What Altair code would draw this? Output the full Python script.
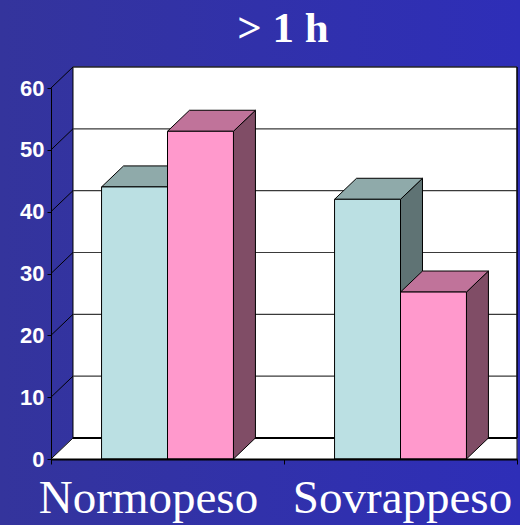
import altair as alt
import pandas as pd

# Values per category (two series, no legend drawn)
categories = ["Normopeso", "Sovrappeso"]
serie_1 = [44, 42]
serie_2 = [53, 27]
series_names = ["Serie 1", "Serie 2"]
y_ticks = [0, 10, 20, 30, 40, 50, 60]
title_text = "> 1 h"

# Canvas and pseudo-3D geometry
W, H = 520, 525
X_RANGE = [51, 517]          # front plane, category axis
Y_RANGE = [459, 88]          # front plane, value axis
Y_MAX = 60
BAR_W = 0.283                # bar width in category units
DEPTH_X = 0.0944             # depth offset in category units
DEPTH_Y = 3.4                # depth offset in value units

FRONT = ["#bbe0e3", "#ff99cc"]
TOP = ["#8faaaa", "#c0739a"]
SIDE = ["#5f7374", "#804d66"]

xs = alt.Scale(domain=[0, 2], range=X_RANGE, nice=False, zero=False)
ys = alt.Scale(domain=[0, Y_MAX], range=Y_RANGE, nice=False, zero=False)

x_axis = alt.Axis(values=[0, 1, 2], labels=False, tickSize=5, tickColor="black",
                  domainColor="black", domainWidth=2, grid=False, title=None,
                  orient="bottom", offset=-(H - Y_RANGE[0]), zindex=1)
y_axis = alt.Axis(values=y_ticks, orient="left", offset=-X_RANGE[0], tickSize=4,
                  tickColor="black", domainColor="black", domainWidth=1,
                  labelFont="Liberation Sans Narrow, Arial Narrow, Liberation Sans",
                  labelFontSize=22, labelFontWeight="bold", labelColor="white",
                  labelPadding=3, grid=False, title=None, zindex=1)


def X(field):
    return alt.X(field, type="quantitative", scale=xs, axis=x_axis)


def Y(field):
    return alt.Y(field, type="quantitative", scale=ys, axis=y_axis)


def fill_scale(colors):
    return alt.Fill("series:N", scale=alt.Scale(domain=series_names, range=colors),
                    legend=None)


# Build the faces of every box from the values
front, side, top = [], [], []
for ci, cat in enumerate(categories):
    center = ci + 0.5
    for si, vals in enumerate([serie_1, serie_2]):
        v = vals[ci]
        name = series_names[si]
        left = center - BAR_W + si * BAR_W
        right = left + BAR_W
        key = f"{cat}|{name}"
        front.append(dict(key=key, series=name, x=left, x2=right, y=0, y2=v))
        side.append(dict(key=key, series=name, x=right, y=0, y2=v))
        side.append(dict(key=key, series=name, x=right + DEPTH_X,
                         y=DEPTH_Y, y2=v + DEPTH_Y))
        top.append(dict(key=key, series=name, y=v, x=left, x2=right))
        top.append(dict(key=key, series=name, y=v + DEPTH_Y,
                        x=left + DEPTH_X, x2=right + DEPTH_X))

front_df = pd.DataFrame(front)
side_df = pd.DataFrame(side)
top_df = pd.DataFrame(top)

# Background gradient
bg = alt.Chart(pd.DataFrame({"k": [0]})).mark_rect(
    fill=alt.Gradient(gradient="linear", x1=0, x2=1, y1=0, y2=0,
                      stops=[alt.GradientStop(color="#34349c", offset=0),
                             alt.GradientStop(color="#2e2eb8", offset=1)])
).encode(x=alt.value(0), x2=alt.value(W), y=alt.value(0), y2=alt.value(H))

# Floor
floor_df = pd.DataFrame([dict(y=0, x=0, x2=2), dict(y=DEPTH_Y, x=DEPTH_X, x2=2)])
floor = alt.Chart(floor_df).mark_area(orient="horizontal", fill="white",
                                      stroke="white", strokeWidth=0.5).encode(
    y=Y("y"), x=X("x"), x2="x2")

# Back wall
wall_df = pd.DataFrame([dict(x=DEPTH_X, x2=2, y=DEPTH_Y, y2=Y_MAX + DEPTH_Y)])
wall = alt.Chart(wall_df).mark_rect(fill="white", stroke="black", strokeWidth=1).encode(
    x=X("x"), x2="x2", y=Y("y"), y2="y2")

# Gridlines on the back wall
grid_df = pd.DataFrame({"t": y_ticks})
grid = alt.Chart(grid_df).transform_calculate(
    yb=f"datum.t + {DEPTH_Y}", xa=f"{DEPTH_X}", xb="2"
).mark_rule(color="#3a3a3a", strokeWidth=1.2).encode(
    x=X("xa"), x2="xb", y=Y("yb"))
base_line = alt.Chart(pd.DataFrame({"t": [0]})).transform_calculate(
    yb=f"datum.t + {DEPTH_Y}", xa=f"{DEPTH_X}", xb="2"
).mark_rule(color="black", strokeWidth=2).encode(
    x=X("xa"), x2="xb", y=Y("yb"))

# Diagonal lines on the left side wall
diag = alt.Chart(grid_df).transform_calculate(
    yb=f"datum.t + {DEPTH_Y}", xa="0", xb=f"{DEPTH_X}"
).mark_rule(color="black", strokeWidth=1).encode(
    x=X("xa"), x2="xb", y=Y("t"), y2="yb")

# Right edge of the plot box
edge = alt.Chart(pd.DataFrame({"x": [2], "y": [0], "y2": [Y_MAX + DEPTH_Y]})).mark_rule(
    color="black", strokeWidth=1).encode(x=X("x"), y=Y("y"), y2="y2")

sides = alt.Chart(side_df).mark_area(stroke="black", strokeWidth=1).encode(
    x=X("x"), y=Y("y"), y2="y2", detail="key:N", fill=fill_scale(SIDE))
tops = alt.Chart(top_df).mark_area(orient="horizontal", stroke="black",
                                   strokeWidth=1).encode(
    y=Y("y"), x=X("x"), x2="x2", detail="key:N", fill=fill_scale(TOP))
fronts = alt.Chart(front_df).mark_rect(stroke="black", strokeWidth=1).encode(
    x=X("x"), x2="x2", y=Y("y"), y2="y2", fill=fill_scale(FRONT))

# Category labels: the first pulled left, the last pushed right
cat_df = pd.DataFrame({"cat": categories, "pos": [i + 0.5 for i in range(len(categories))]})
cat_labels = alt.Chart(cat_df).mark_text(
    font="Liberation Serif", fontSize=47, color="white", baseline="alphabetic",
    align="center",
    dx=alt.expr(f"datum.cat == '{categories[0]}' ? -19 : 2")).encode(
    x=X("pos"), y=alt.value(513), text="cat:N")

title = alt.Chart(pd.DataFrame({"t": [title_text]})).mark_text(
    font="Liberation Serif", fontSize=43, fontWeight="bold", color="white",
    baseline="alphabetic", align="center").encode(
    x=alt.value(283), y=alt.value(42), text="t:N")

chart = alt.layer(
    bg, floor, wall, grid, base_line, diag, edge, sides, tops, fronts, cat_labels, title
).resolve_scale(fill="independent").properties(
    width=W, height=H, padding=0, autosize=alt.AutoSizeParams(type="none"),
    background="#3131a8"
).configure_view(stroke=None)

chart.save("out.html", embed_options={"renderer": "svg", "actions": False})
